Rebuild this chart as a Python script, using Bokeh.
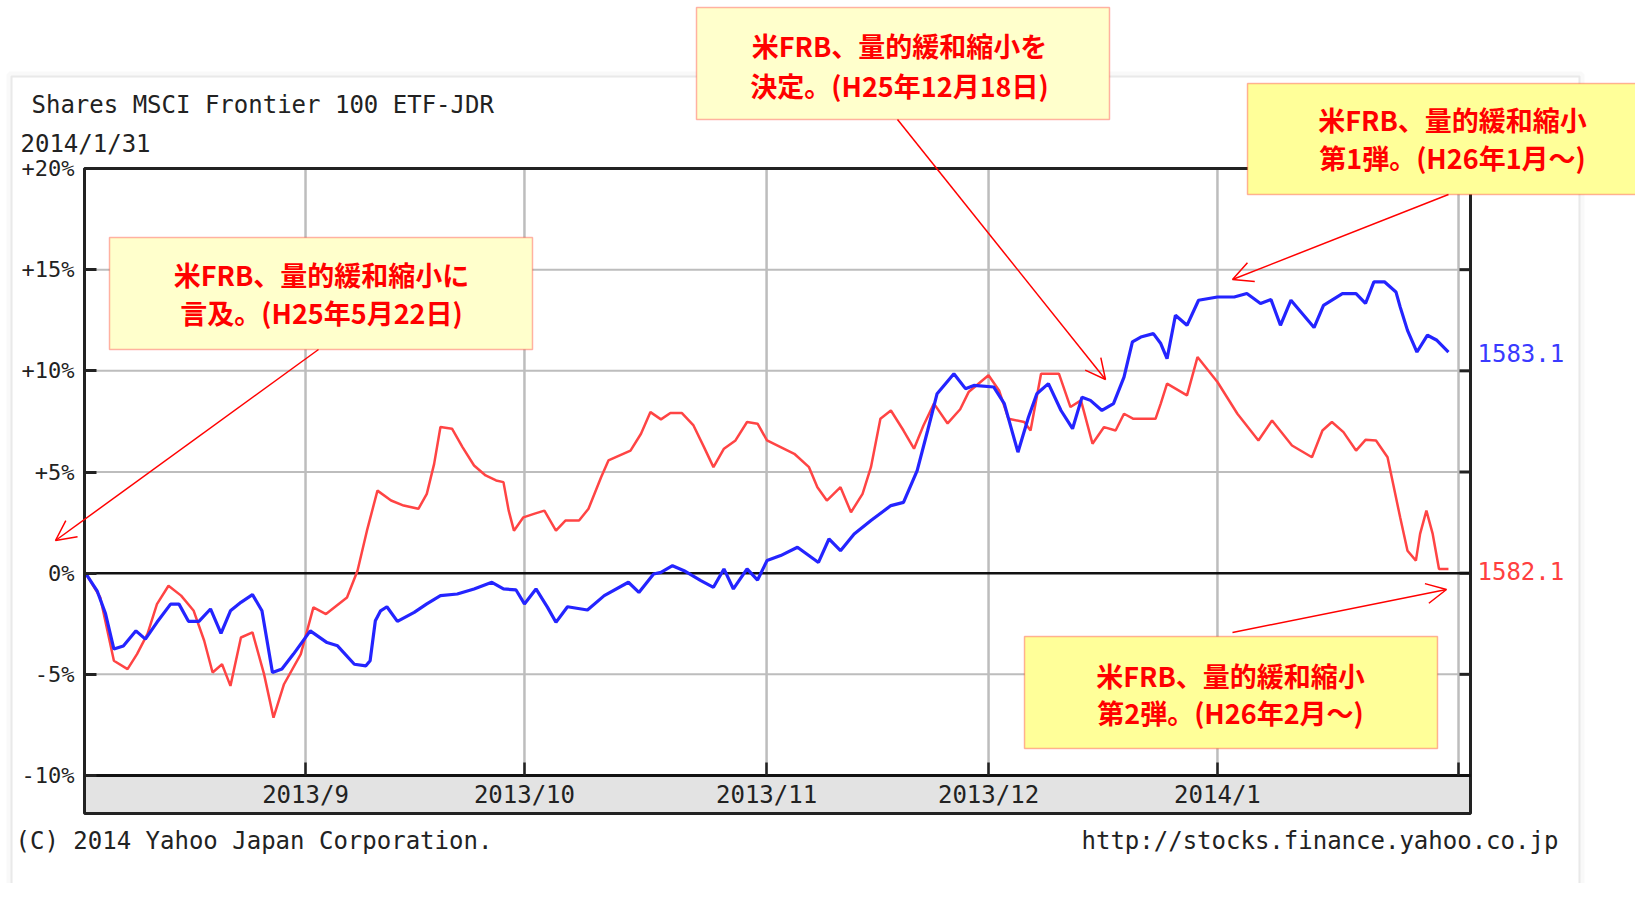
from bokeh.plotting import figure
from bokeh.models import (Range1d, FixedTicker, LinearAxis, PolyAnnotation,
                          Label, Arrow, OpenHead)
from bokeh.embed import file_html
from bokeh.resources import INLINE

# ---------------- data ----------------
# x = session position from the start of the chart (2013/8 .. 2014/1/31)
blue_day = [0, 1.1, 1.9, 2.7, 3.6, 4.8, 5.7, 6.8, 8.1, 8.9,
            9.8, 10.8, 11.9, 12.9, 13.8, 14.8, 15.9, 16.8, 17.8, 18.7,
            19.8, 21.4, 23.0, 24.0, 25.6, 26.7, 27.1, 27.6, 28.1, 28.7,
            29.7, 31.3, 32.5, 33.8, 35.4, 37.0, 38.7, 39.8, 41.0, 41.8,
            42.9, 44.0, 44.8, 45.9, 47.8, 49.4, 51.7, 52.7, 54.1, 54.8,
            55.9, 57.0, 58.6, 59.8, 60.8, 61.7, 63.0, 64.0, 64.9, 66.2,
            67.8, 69.8, 70.8, 71.9, 73.2, 74.8, 76.7, 77.9, 79.2, 80.2,
            81.1, 82.7, 83.8, 84.6, 86.5, 87.5, 88.8, 89.8, 90.6, 91.7,
            92.9, 94.0, 94.9, 95.7, 96.8, 97.9, 98.9, 99.7, 100.5, 101.7,
            102.4, 103.0, 103.8, 104.9, 106.0, 107.8, 109.4, 110.6, 111.9, 112.9,
            113.8, 114.8, 117.0, 117.9, 119.7, 121.0, 121.9, 122.7, 123.7, 124.8,
            125.2, 125.9, 126.8, 127.8, 128.7, 129.8]
blue_pct = [0, -0.87, -2.0, -3.75, -3.6, -2.85, -3.26, -2.43, -1.53, -1.53,
            -2.38, -2.38, -1.77, -2.98, -1.86, -1.44, -1.06, -1.86, -4.91, -4.74,
            -4.0, -2.85, -3.43, -3.59, -4.5, -4.58, -4.33, -2.35, -1.86, -1.66,
            -2.38, -1.94, -1.52, -1.11, -1.03, -0.78, -0.45, -0.78, -0.83, -1.52,
            -0.78, -1.69, -2.43, -1.66, -1.82, -1.11, -0.45, -0.95, -0.04, 0.04,
            0.37, 0.12, -0.37, -0.7, 0.21, -0.78, 0.21, -0.34, 0.62, 0.87,
            1.28, 0.53, 1.69, 1.11, 1.94, 2.6, 3.34, 3.5, 5.07, 7.05,
            8.87, 9.86, 9.12, 9.28, 9.2, 8.38, 5.98, 7.71, 8.87, 9.37,
            8.04, 7.14, 8.7, 8.54, 8.04, 8.38, 9.69, 11.43, 11.67, 11.84,
            11.35, 10.6, 12.75, 12.25, 13.49, 13.65, 13.65, 13.82, 13.33, 13.52,
            12.25, 13.49, 12.14, 13.24, 13.82, 13.82, 13.33, 14.4, 14.4, 13.9,
            13.16, 12.0, 10.93, 11.76, 11.51, 10.93]

red_day = [0, 1.4, 2.7, 4.0, 4.9, 5.9, 6.8, 7.9, 9.1, 10.3,
           11.3, 12.1, 13.0, 13.8, 14.8, 15.9, 17.0, 17.9, 18.9, 20.5,
           21.7, 22.9, 24.9, 25.9, 26.8, 27.8, 29.1, 30.3, 31.7, 32.5,
           33.2, 33.8, 34.9, 35.9, 37.0, 38.1, 39.1, 39.8, 40.3, 40.8,
           41.7, 42.7, 43.7, 44.8, 45.7, 47.0, 47.9, 49.1, 49.8, 51.9,
           52.9, 53.8, 54.8, 55.7, 56.8, 57.9, 58.9, 59.8, 60.8, 61.9,
           63.0, 64.0, 64.9, 66.2, 67.5, 68.9, 69.7, 70.6, 71.9, 72.9,
           74.0, 74.8, 75.7, 76.7, 77.9, 78.9, 79.8, 80.8, 82.1, 83.3,
           84.1, 86.0, 87.0, 87.9, 89.4, 90.0, 91.0, 92.7, 93.8, 94.8,
           95.9, 97.0, 98.1, 98.9, 99.8, 101.9, 102.4, 103.0, 104.9, 105.9,
           107.8, 109.7, 111.7, 113.0, 114.9, 116.8, 117.8, 118.7, 119.8, 121.0,
           121.9, 122.9, 124.0, 124.6, 125.2, 125.9, 126.7, 127.1, 127.7, 128.3,
           128.9, 129.8]
red_pct = [0, -1.2, -4.33, -4.74, -4.0, -3.0, -1.53, -0.62, -1.11, -1.86,
           -3.34, -4.91, -4.5, -5.57, -3.18, -2.93, -4.99, -7.14, -5.49, -4.0,
           -1.69, -2.02, -1.2, 0.12, 2.1, 4.08, 3.59, 3.34, 3.18, 3.92,
           5.4, 7.22, 7.14, 6.23, 5.32, 4.83, 4.58, 4.5, 3.09, 2.1,
           2.76, 2.93, 3.09, 2.1, 2.6, 2.6, 3.18, 4.74, 5.57, 6.06,
           6.89, 7.96, 7.6, 7.92, 7.91, 7.3, 6.23, 5.24, 6.15, 6.56,
           7.47, 7.39, 6.56, 6.23, 5.9, 5.24, 4.25, 3.59, 4.25, 3.01,
           3.92, 5.24, 7.63, 8.04, 7.05, 6.15, 7.3, 8.38, 7.4, 8.1,
           8.95, 9.78, 9.03, 7.63, 7.47, 7.05, 9.86, 9.86, 8.21, 8.54,
           6.4, 7.22, 7.05, 7.88, 7.63, 7.63, 8.38, 9.37, 8.79, 10.68,
           9.45, 7.88, 6.56, 7.55, 6.31, 5.73, 7.05, 7.47, 6.97, 6.06,
           6.59, 6.56, 5.73, 4.25, 2.76, 1.11, 0.62, 1.94, 3.09, 1.94,
           0.21, 0.21]

month_day = [20.95, 41.8, 64.86, 86.0, 107.8, 130.76]
month_label = ["2013/9", "2013/10", "2013/11", "2013/12", "2014/1", ""]
y_ticks = [-10, -5, 0, 5, 10, 15, 20]
y_tick_labels = ["-10%", "-5%", "0%", "+5%", "+10%", "+15%", "+20%"]
blue_last = "1583.1"
red_last = "1582.1"

title_text = "Shares MSCI Frontier 100 ETF-JDR"
date_text = "2014/1/31"
copy_text = "(C) 2014 Yahoo Japan Corporation."
url_text = "http://stocks.finance.yahoo.co.jp"

notes = [
    ("米FRB、量的緩和縮小に", "言及。(H25年5月22日)"),
    ("米FRB、量的緩和縮小を", "決定。(H25年12月18日)"),
    ("米FRB、量的緩和縮小", "第1弾。(H26年1月～)"),
    ("米FRB、量的緩和縮小", "第2弾。(H26年2月～)"),
]

# ---------------- geometry ----------------
W, H = 1635, 883          # canvas size
OFF = 0                   # page position of the canvas' top-left corner
CX0, CX1 = -0.1, 131.9    # chart x extent (data)
CY_TOP, CY_LOW = 20.0, -10.0
PL, PR = 84, 1470         # page px of chart left / right
PT, PLOW = 168, 775       # page px of +20% and -10%
PBAND = 813               # page px of the bottom of the date band

sx = (PR - PL) / (CX1 - CX0)           # px per x unit
sy = (PLOW - PT) / (CY_TOP - CY_LOW)   # px per y unit


def dx(px):
    return CX0 + (px - PL) / sx


def dy(py):
    return CY_TOP - (py - PT) / sy


BAND_LOW = dy(PBAND)

p = figure(width=W, height=H, x_range=Range1d(dx(OFF), dx(OFF + W)), y_range=Range1d(dy(OFF + H), dy(OFF)),
           output_backend="svg", toolbar_location=None, x_axis_location=None, y_axis_location=None,
           min_border=0)
p.background_fill_color = "white"
p.border_fill_color = "white"
p.outline_line_color = None
p.xgrid.visible = False
p.ygrid.visible = False

MONO = "DejaVu Sans Mono"

# outer panel of the picture
p.add_layout(PolyAnnotation(xs=[dx(9), dx(9), dx(1581), dx(1581)], ys=[dy(940), dy(74), dy(74), dy(940)],
                            fill_alpha=0, line_color="#ececec", line_width=6, level="underlay"))
p.add_layout(PolyAnnotation(xs=[dx(11), dx(11), dx(1579), dx(1579)], ys=[dy(940), dy(76), dy(76), dy(940)],
                            fill_alpha=0, line_color="#c4c4c4", line_width=2, level="underlay"))

# date band
p.quad(left=[CX0], right=[CX1], bottom=[BAND_LOW], top=[CY_LOW], fill_color="#e3e3e3", line_color=None)

# grid lines inside the chart
hgrid = [t for t in y_ticks if CY_LOW < t < CY_TOP and t != 0]
p.segment(x0=[CX0] * len(hgrid), y0=hgrid, x1=[CX1] * len(hgrid), y1=hgrid, line_color="#bdbdbd", line_width=2)
n = len(month_day)
p.segment(x0=month_day, y0=[CY_LOW] * n, x1=month_day, y1=[CY_TOP] * n, line_color="#bdbdbd", line_width=2.5)

# right-hand inner ticks
rt = 11 / sx
inner = [t for t in y_ticks if CY_LOW < t < CY_TOP]
p.segment(x0=[CX1 - rt] * len(inner), y0=inner, x1=[CX1] * len(inner), y1=inner, line_color="#222222", line_width=3)

# zero line
p.segment(x0=[CX0], y0=[0], x1=[CX1], y1=[0], line_color="#111111", line_width=2.5)

# series
p.line(red_day, red_pct, line_color="#ff4444", line_width=2.5)
p.line(blue_day, blue_pct, line_color="#2424ff", line_width=3.2)

# chart outline (chart + date band)
p.quad(left=[CX0], right=[CX1], bottom=[BAND_LOW], top=[CY_TOP], fill_color=None,
       line_color="#222222", line_width=3)

# axes drawn at fixed positions inside the canvas
yax = LinearAxis(fixed_location=CX0, bounds=(CY_LOW, CY_TOP), ticker=FixedTicker(ticks=y_ticks),
                 major_label_overrides={t: s for t, s in zip(y_ticks, y_tick_labels)},
                 major_label_text_font=MONO, major_label_text_font_size="22px",
                 major_label_text_color="#222222", major_label_standoff=10,
                 axis_line_color="#222222", axis_line_width=3,
                 major_tick_in=12, major_tick_out=0, major_tick_line_color="#222222",
                 major_tick_line_width=3, minor_tick_line_color=None)
p.add_layout(yax, "left")
xax = LinearAxis(fixed_location=CY_LOW, bounds=(CX0, CX1), ticker=FixedTicker(ticks=month_day),
                 major_label_overrides={t: s for t, s in zip(month_day, month_label)},
                 major_label_text_font=MONO, major_label_text_font_size="24px",
                 major_label_text_color="#222222", major_label_standoff=5,
                 axis_line_color="#111111", axis_line_width=3,
                 major_tick_in=13, major_tick_out=0, major_tick_line_color="#222222",
                 major_tick_line_width=2.5, minor_tick_line_color=None)
p.add_layout(xax, "below")


# texts around the chart
def lab(px, py, text, size, color, font=MONO, align="left", style="normal"):
    p.add_layout(Label(x=dx(px), y=dy(py), text=text, text_font=font, text_font_size=size,
                       text_color=color, text_align=align, text_baseline="middle",
                       text_font_style=style))


lab(31, 104, title_text, "24px", "#222222")
lab(20, 143, date_text, "24px", "#222222")
lab(15, 840, copy_text, "24px", "#222222")
lab(1081, 840, url_text, "24px", "#222222")
lab(1477, 352, blue_last, "24px", "#3a3aff")
lab(1477, 570, red_last, "24px", "#ff4040")

# callouts
boxes = [(109, 237, 532, 349, "#ffffcc"), (696, 7, 1109, 119, "#ffffcc"),
         (1247, 83, 1665, 194, "#ffff99"), (1024, 636, 1437, 748, "#ffff99")]
text_pos = [(321, 274, 312), (899, 45, 85), (1452, 119, 157), (1230, 675, 712)]
arrows = [((318, 349), (55, 540)), ((897, 119), (1105, 379)),
          ((1448, 194), (1232, 279)), ((1232, 632), (1446, 589))]

for (x0, y0, x1, y1, fc) in boxes:
    p.add_layout(PolyAnnotation(xs=[dx(x0), dx(x1), dx(x1), dx(x0)], ys=[dy(y0), dy(y0), dy(y1), dy(y1)],
                                fill_color=fc, fill_alpha=1, line_color="#ff0000", line_width=1.5))
for (a, b) in arrows:
    p.add_layout(Arrow(end=OpenHead(size=20, line_color="#ff0000", line_width=1.5),
                       x_start=dx(a[0]), y_start=dy(a[1]), x_end=dx(b[0]), y_end=dy(b[1]),
                       line_color="#ff0000", line_width=1.5))
for (l1, l2), (cx, ya, yb) in zip(notes, text_pos):
    lab(cx, ya, l1, "27px", "#ff0000", font="Noto Sans CJK JP", align="center", style="bold")
    lab(cx, yb, l2, "27px", "#ff0000", font="Noto Sans CJK JP", align="center", style="bold")

open("out.html", "w").write(file_html(p, INLINE))
